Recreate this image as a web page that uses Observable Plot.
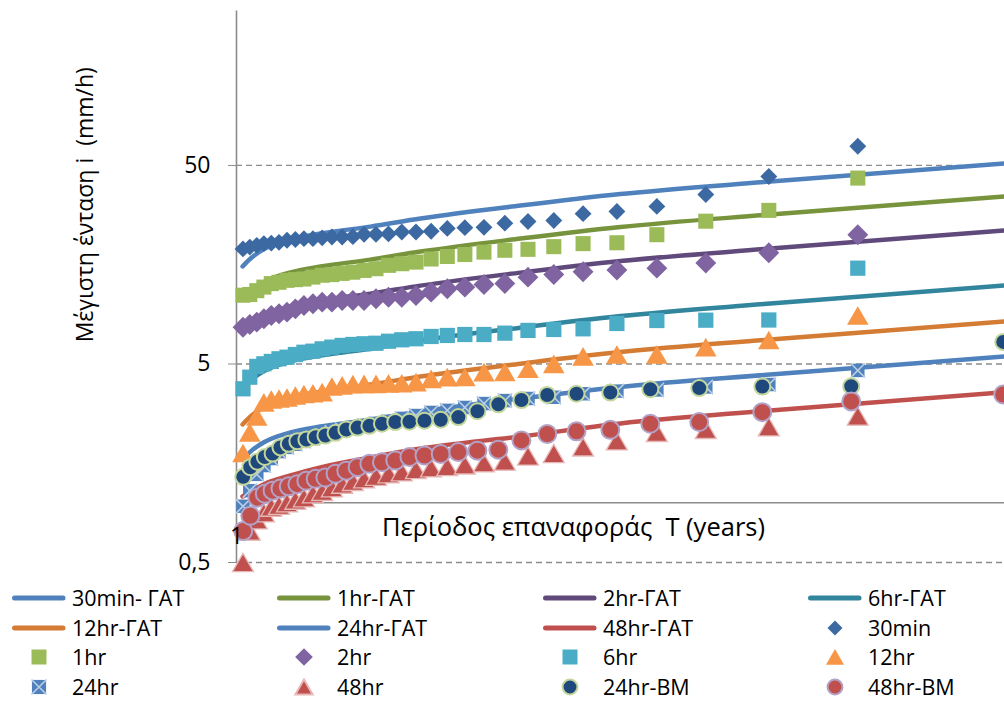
<!DOCTYPE html>
<html><head><meta charset="utf-8">
<script src="https://cdn.jsdelivr.net/npm/d3@7"></script>
<script src="https://cdn.jsdelivr.net/npm/@observablehq/plot@0.6"></script>
<style>
body{margin:0;background:#fff;font-family:"Open Sans",sans-serif;color:#000;}
#wrap{position:relative;width:1004px;height:702px;overflow:hidden;background:#fff;}
#xtitle{position:absolute;left:360px;top:505px;width:466px;height:42px;background:#fff;font-size:25.5px;line-height:42px;white-space:pre;padding-left:22px;box-sizing:border-box;}
#legend{position:absolute;left:0;top:583px;width:1004px;height:119px;}
.item{position:absolute;display:flex;align-items:center;height:28px;font-size:21.5px;line-height:28px;white-space:pre;}
.item svg{flex:none;}
</style></head>
<body><div id="wrap"><div id="chart"></div><div id="xtitle">Περίοδος επαναφοράς  T (years)</div><div id="legend"></div></div>
<script>
// ---------- data ----------
const yTicks = [0.5, 5, 50];
const xTickLabels = [1];
const xAxisCrossesAt = 1;
const yLabel = "Μέγιστη ένταση i  (mm/h)";

// return periods of fitted ΓΑΤ curves (years)
const T_fit = [1.028, 1.066, 1.131, 1.279, 1.467, 1.842, 2.314, 3.651, 5.76, 11.41, 33.19];
const gat30 = [15.5, 17.0, 18.9, 21.2, 22.7, 24.6, 27.0, 31.4, 35.9, 41.5, 51.2];
const gat1h = [10.57, 11.6, 12.89, 14.46, 15.48, 16.78, 18.42, 21.42, 24.49, 28.31, 34.92];
const gat2h = [7.13, 7.81, 8.69, 9.75, 10.44, 11.31, 12.41, 14.43, 16.5, 19.08, 23.54];
const gat6h = [3.76, 4.13, 4.59, 5.15, 5.51, 5.97, 6.56, 7.62, 8.72, 10.08, 12.43];
const gat12h = [2.48, 2.72, 3.02, 3.39, 3.63, 3.94, 4.32, 5.02, 5.74, 6.64, 8.19];
const gat24h = [1.65, 1.81, 2.01, 2.26, 2.42, 2.62, 2.88, 3.35, 3.83, 4.42, 5.46];
const gat48h = [1.075, 1.14, 1.236, 1.372, 1.505, 1.69, 1.876, 2.157, 2.507, 2.916, 3.605];

// return periods of observed maxima
const T_obs = [1.030, 1.0625, 1.097, 1.133, 1.172, 1.214, 1.259, 1.308, 1.36, 1.417, 1.478, 1.545, 1.619, 1.7, 1.789, 1.889, 2.0, 2.125, 2.267, 2.429, 2.615, 2.833, 3.091, 3.4, 3.778, 4.25, 4.857, 5.667, 6.8, 8.5, 11.33, 17.0];
const obs30 = [19.0, 19.4, 19.8, 20.2, 20.3, 20.5, 21.0, 21.2, 21.4, 21.4, 21.6, 21.8, 21.8, 21.9, 22.5, 22.5, 22.6, 23.1, 23.1, 23.3, 24.1, 24.3, 24.4, 25.6, 26.1, 26.4, 28.6, 29.3, 31.1, 35.7, 44.0, 62.5];
const obs1h = [11.1, 11.2, 11.7, 12.2, 12.7, 12.9, 13.2, 13.3, 13.4, 13.7, 14.0, 14.1, 14.3, 14.5, 14.8, 15.1, 15.7, 16.0, 16.3, 16.9, 17.4, 17.8, 18.3, 18.7, 18.9, 19.5, 20.2, 20.4, 22.4, 26.2, 29.7, 43.2];
const obs2h = [7.66, 7.91, 8.12, 8.45, 8.77, 8.95, 9.12, 9.48, 9.86, 10.05, 10.24, 10.24, 10.44, 10.44, 10.44, 10.65, 10.85, 10.85, 11.07, 11.5, 11.96, 12.19, 12.57, 12.72, 13.69, 14.12, 14.57, 14.88, 15.19, 16.14, 18.16, 22.4];
const obs6h = [3.75, 4.29, 4.86, 5.01, 5.15, 5.31, 5.41, 5.58, 5.73, 5.8, 5.96, 6.08, 6.2, 6.27, 6.32, 6.36, 6.51, 6.62, 6.7, 6.88, 6.96, 7.04, 7.04, 7.15, 7.38, 7.46, 7.52, 8.0, 8.28, 8.31, 8.33, 15.19];
const obs12h = [1.78, 2.26, 2.72, 3.2, 3.31, 3.35, 3.39, 3.47, 3.53, 3.56, 3.61, 3.85, 3.9, 3.96, 3.97, 3.97, 3.99, 4.0, 4.05, 4.21, 4.29, 4.3, 4.55, 4.56, 4.73, 5.01, 5.46, 5.58, 5.58, 6.08, 6.6, 8.77];
const obs24h = [0.96, 1.15, 1.39, 1.54, 1.67, 1.81, 1.9, 1.97, 2.04, 2.11, 2.18, 2.26, 2.34, 2.39, 2.45, 2.51, 2.57, 2.66, 2.75, 2.85, 2.92, 3.02, 3.16, 3.27, 3.35, 3.4, 3.54, 3.65, 3.7, 3.83, 3.94, 4.64];
const obs48h = [0.5, 0.72, 0.82, 0.89, 0.95, 0.97, 1.0, 1.03, 1.06, 1.11, 1.14, 1.19, 1.24, 1.28, 1.32, 1.36, 1.4, 1.43, 1.47, 1.5, 1.52, 1.55, 1.59, 1.62, 1.72, 1.77, 1.91, 2.05, 2.26, 2.34, 2.41, 2.73];

// return periods of BM series
const T_bm = [1.031, 1.065, 1.1, 1.138, 1.179, 1.222, 1.269, 1.32, 1.375, 1.435, 1.5, 1.571, 1.65, 1.737, 1.833, 1.941, 2.063, 2.2, 2.357, 2.538, 2.75, 3.0, 3.3, 3.667, 4.125, 4.714, 5.5, 6.6, 8.25, 11.0, 16.5, 33.0];
const bm24h = [1.35, 1.51, 1.61, 1.7, 1.77, 1.9, 1.98, 2.04, 2.08, 2.14, 2.18, 2.25, 2.34, 2.39, 2.44, 2.5, 2.55, 2.56, 2.59, 2.62, 2.7, 2.89, 3.13, 3.29, 3.49, 3.54, 3.59, 3.73, 3.78, 3.85, 3.86, 6.46];
const bm48h = [0.72, 0.86, 1.06, 1.11, 1.15, 1.18, 1.21, 1.24, 1.29, 1.32, 1.34, 1.4, 1.45, 1.51, 1.57, 1.6, 1.63, 1.7, 1.73, 1.76, 1.8, 1.83, 1.85, 2.06, 2.22, 2.29, 2.33, 2.5, 2.55, 2.86, 3.24, 3.51];

// ---------- styles ----------
const fits = [
  {name: "30min- ΓΑΤ", v: gat30, color: "#4F81BD"},
  {name: "1hr-ΓΑΤ", v: gat1h, color: "#77933C"},
  {name: "2hr-ΓΑΤ", v: gat2h, color: "#604A7B"},
  {name: "6hr-ΓΑΤ", v: gat6h, color: "#31859C"},
  {name: "12hr-ΓΑΤ", v: gat12h, color: "#D47B34"},
  {name: "24hr-ΓΑΤ", v: gat24h, color: "#4F81BD"},
  {name: "48hr-ΓΑΤ", v: gat48h, color: "#C0504D"}
];
const pts = (T, v) => T.map((t, i) => ({T: t, v: v[i]}));

const marks = [
  Plot.ruleY(yTicks, {stroke: "#8C8C8C", strokeWidth: 1.3, strokeDasharray: "6,4"}),
  Plot.ruleX([1], {stroke: "#8C8C8C", strokeWidth: 1.6}),
  Plot.ruleY([xAxisCrossesAt], {stroke: "#8C8C8C", strokeWidth: 1.6}),
  Plot.axisY(yTicks, {tickSize: 8, tickPadding: 18, stroke: "#8C8C8C", fill: "#000", fontSize: 23,
    tickFormat: d => String(d).replace(".", ","), label: null}),
  ...fits.map(f => Plot.line(pts(T_fit, f.v), {x: "T", y: "v", stroke: f.color, strokeWidth: 4.5,
    strokeLinecap: "round", curve: "monotone-x"})),
  Plot.dot(pts(T_obs, obs30), {x: "T", y: "v", symbol: "diamond2", r: 7.6, fill: "#3D69A3"}),
  Plot.dot(pts(T_obs, obs1h), {x: "T", y: "v", symbol: "square", r: 8.5, fill: "#9BBB59"}),
  Plot.dot(pts(T_obs, obs2h), {x: "T", y: "v", symbol: "diamond2", r: 9.4, fill: "#8064A2"}),
  Plot.dot(pts(T_obs, obs6h), {x: "T", y: "v", symbol: "square", r: 8.6, fill: "#4BACC6"}),
  Plot.dot(pts(T_obs, obs12h), {x: "T", y: "v", symbol: "triangle", r: 8.0, fill: "#F79646", dy: 3.1}),
  Plot.dot(pts(T_obs, obs24h), {x: "T", y: "v", symbol: "square", r: 7.6, fill: "#4F81BD"}),
  Plot.dot(pts(T_obs, obs24h), {x: "T", y: "v", symbol: "times", r: 6.6, stroke: "#B9CDE5", strokeWidth: 1.6}),
  Plot.dot(pts(T_obs, obs48h), {x: "T", y: "v", symbol: "triangle", r: 7.8, fill: "#C0504D", stroke: "#E6B9B8", strokeWidth: 1.3, dy: 3.0}),
  Plot.dot(pts(T_bm, bm24h), {x: "T", y: "v", r: 8, fill: "#1F497D", stroke: "#C3D69B", strokeWidth: 2}),
  Plot.dot(pts(T_bm, bm48h), {x: "T", y: "v", r: 9, fill: "#C0504D", stroke: "#B3A2C7", strokeWidth: 2}),
  Plot.text(xTickLabels, {x: d => d, y: () => xAxisCrossesAt, text: d => String(d), dy: 34, fontSize: 23, fill: "#000"}),
  Plot.text([yLabel], {frameAnchor: "left", textAnchor: "middle", dx: -151, dy: -82, rotate: -90, fontSize: 23, fill: "#000"})
];

const chart = Plot.plot({
  width: 1004, height: 583,
  marginLeft: 236, marginRight: 0, marginTop: 10.5, marginBottom: 21,
  style: {fontFamily: "Open Sans", fontSize: "23px", background: "white", overflow: "visible"},
  x: {type: "log", domain: [1, 33.19], axis: null},
  y: {type: "log", domain: [0.5, 300], axis: null},
  marks
});
document.getElementById("chart").appendChild(chart);

// ---------- legend ----------
const legendItems = [
  {label: "30min- ΓΑΤ", kind: "line", color: "#4F81BD"},
  {label: "1hr-ΓΑΤ", kind: "line", color: "#77933C"},
  {label: "2hr-ΓΑΤ", kind: "line", color: "#604A7B"},
  {label: "6hr-ΓΑΤ", kind: "line", color: "#31859C"},
  {label: "12hr-ΓΑΤ", kind: "line", color: "#D47B34"},
  {label: "24hr-ΓΑΤ", kind: "line", color: "#4F81BD"},
  {label: "48hr-ΓΑΤ", kind: "line", color: "#C0504D"},
  {label: "30min", kind: "diamond", color: "#3D69A3", s: 143},
  {label: "1hr", kind: "square", color: "#9BBB59", s: 225},
  {label: "2hr", kind: "diamond", color: "#8064A2", s: 200},
  {label: "6hr", kind: "square", color: "#4BACC6", s: 225},
  {label: "12hr", kind: "triangle", color: "#F79646", s: 140},
  {label: "24hr", kind: "squarex", color: "#4F81BD", s: 200},
  {label: "48hr", kind: "triangle", color: "#C0504D", s: 130, stroke: "#E6B9B8"},
  {label: "24hr-BM", kind: "circle", color: "#1F497D", s: 175, stroke: "#C3D69B"},
  {label: "48hr-BM", kind: "circle", color: "#C0504D", s: 175, stroke: "#B3A2C7"}
];
const colX = [12, 277, 543, 808];
const rowY = [14.7, 44.5, 74.3, 104];
const legend = d3.select("#legend");
legendItems.forEach((it, k) => {
  const c = k % 4, r = Math.floor(k / 4);
  const div = legend.append("div").attr("class", "item")
    .style("left", colX[c] + "px").style("top", (rowY[r] - 14) + "px");
  const svg = div.append("svg").attr("width", 60).attr("height", 28);
  if (it.kind === "line") {
    svg.append("line").attr("x1", 2.5).attr("x2", 51).attr("y1", 14).attr("y2", 14)
      .attr("stroke", it.color).attr("stroke-width", 5).attr("stroke-linecap", "round");
  } else {
    const sym = {diamond: d3.symbolDiamond2, square: d3.symbolSquare, squarex: d3.symbolSquare,
      triangle: d3.symbolTriangle, circle: d3.symbolCircle}[it.kind];
    const g = svg.append("g").attr("transform", `translate(27,${it.kind === "triangle" ? 16.5 : 14})`);
    g.append("path").attr("d", d3.symbol(sym, it.s)()).attr("fill", it.color)
      .attr("stroke", it.stroke || "none").attr("stroke-width", 2);
    if (it.kind === "squarex") {
      g.append("path").attr("d", d3.symbol(d3.symbolTimes, 150)()).attr("fill", "none")
        .attr("stroke", "#B9CDE5").attr("stroke-width", 1.6);
    }
  }
  div.append("span").text(it.label);
});
</script></body></html>
